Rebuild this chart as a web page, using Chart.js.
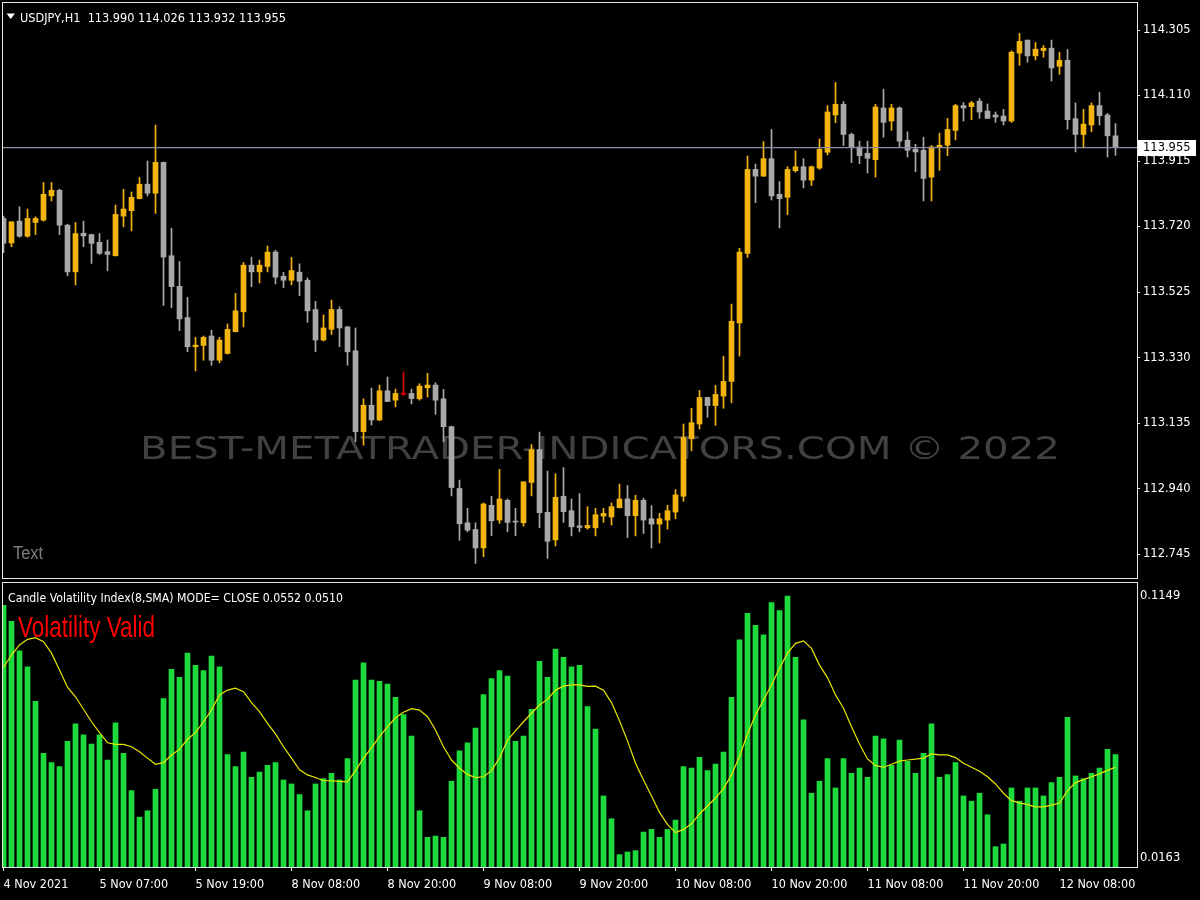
<!DOCTYPE html>
<html><head><meta charset="utf-8">
<script src="https://cdn.jsdelivr.net/npm/chart.js@4.4.1/dist/chart.umd.min.js"></script>
<style>
html,body{margin:0;padding:0;background:#000;width:1200px;height:900px;overflow:hidden}
#top{position:absolute;left:0;top:0;width:1200px;height:580px}
#bot{position:absolute;left:0;top:580px;width:1200px;height:320px}
</style></head><body>
<div id="top"><canvas id="c1"></canvas></div>
<div id="bot"><canvas id="c2"></canvas></div>
<script>
// ---------- DATA ----------
const xTickIndex  = [0, 12, 24, 36, 48, 60, 72, 84, 96, 108, 120, 132];
const xTickLabels = ['4 Nov 2021','5 Nov 07:00','5 Nov 19:00','8 Nov 08:00','8 Nov 20:00','9 Nov 08:00','9 Nov 20:00','10 Nov 08:00','10 Nov 20:00','11 Nov 08:00','11 Nov 20:00','12 Nov 08:00'];
const priceTicks = [112.745, 112.940, 113.135, 113.330, 113.525, 113.720, 113.915, 114.110, 114.305];
const volTicks = [0.0163, 0.1149];
const bidPrice = 113.955;
const chartTitle = 'USDJPY,H1  113.990 114.026 113.932 113.955';
const indTitle = 'Candle Volatility Index(8,SMA) MODE= CLOSE 0.0552 0.0510';
const signalText = 'Volatility Valid';

const open = [113.744,113.671,113.736,113.691,113.732,113.739,113.811,113.828,113.724,113.585,
113.700,113.696,113.673,113.645,113.633,113.751,113.767,113.803,113.846,113.819,
113.911,113.633,113.542,113.449,113.362,113.366,113.394,113.322,113.342,113.407,
113.466,113.605,113.585,113.601,113.644,113.572,113.560,113.584,113.560,113.473,
113.382,113.414,113.473,113.421,113.350,113.109,113.188,113.144,113.231,113.203,
113.221,113.223,113.207,113.240,113.248,113.207,113.124,112.940,112.838,112.818,
112.763,112.890,112.846,112.905,112.841,112.838,112.958,113.056,112.869,112.787,
112.917,112.874,112.829,112.823,112.823,112.858,112.855,112.883,112.909,112.859,
112.905,112.850,112.834,112.846,112.870,112.917,113.088,113.132,113.211,113.187,
113.215,113.259,113.433,113.640,113.890,113.870,113.922,113.816,113.807,113.886,
113.898,113.858,113.894,113.941,114.052,114.084,113.994,113.957,113.938,113.919,
114.073,114.034,114.073,113.977,113.950,113.947,113.867,113.956,113.962,114.006,
114.080,114.077,114.093,114.064,114.052,114.049,114.034,114.236,114.275,114.228,
114.244,114.251,114.197,114.215,114.041,113.994,114.022,114.080,114.052,113.990];
const high = [113.751,113.734,113.779,113.772,113.749,113.851,113.851,113.831,113.727,113.732,
113.736,113.697,113.699,113.680,113.784,113.831,113.823,113.866,113.915,114.022,
113.912,113.715,113.616,113.509,113.390,113.394,113.411,113.390,113.430,113.521,
113.613,113.629,113.620,113.662,113.649,113.584,113.628,113.609,113.567,113.497,
113.457,113.501,113.481,113.423,113.418,113.207,113.239,113.248,113.272,113.236,
113.287,113.236,113.252,113.283,113.255,113.235,113.126,112.965,112.881,112.838,
112.897,112.917,112.997,112.909,112.881,112.960,113.071,113.108,112.992,112.984,
113.002,112.909,112.925,112.886,112.881,112.881,112.897,112.953,112.949,112.920,
112.911,112.889,112.866,112.890,112.937,113.132,113.179,113.232,113.212,113.247,
113.334,113.489,113.655,113.930,113.906,113.973,114.009,113.854,113.898,113.945,
113.922,113.900,113.981,114.080,114.149,114.092,113.998,113.974,113.974,114.084,
114.129,114.084,114.076,114.002,113.965,113.986,113.961,113.998,114.042,114.084,
114.089,114.093,114.101,114.085,114.061,114.069,114.243,114.295,114.275,114.268,
114.259,114.275,114.239,114.247,114.088,114.069,114.088,114.120,114.057,114.026];
const low = [113.642,113.660,113.688,113.688,113.696,113.736,113.796,113.696,113.573,113.546,
113.660,113.610,113.637,113.588,113.632,113.719,113.707,113.802,113.811,113.759,
113.485,113.478,113.410,113.347,113.290,113.322,113.307,113.314,113.340,113.406,
113.421,113.541,113.552,113.585,113.549,113.538,113.546,113.514,113.435,113.347,
113.379,113.399,113.362,113.307,113.079,113.069,113.129,113.142,113.199,113.183,
113.216,113.192,113.203,113.212,113.161,113.079,112.918,112.786,112.811,112.717,
112.737,112.800,112.836,112.811,112.800,112.828,112.918,112.823,112.732,112.769,
112.839,112.799,112.811,112.819,112.799,112.839,112.831,112.882,112.794,112.799,
112.806,112.763,112.778,112.819,112.850,112.902,113.052,113.117,113.152,113.128,
113.179,113.195,113.334,113.628,113.791,113.869,113.799,113.716,113.755,113.882,
113.835,113.842,113.890,113.933,114.029,113.961,113.910,113.907,113.879,113.867,
113.986,114.006,113.957,113.927,113.883,113.796,113.796,113.887,113.931,113.978,
114.034,114.038,114.042,114.041,114.030,114.022,114.030,114.200,114.209,114.216,
114.224,114.153,114.173,114.010,113.942,113.954,114.002,114.022,113.927,113.932];
const close = [113.670,113.734,113.691,113.744,113.744,113.816,113.828,113.724,113.585,113.699,
113.692,113.670,113.640,113.637,113.756,113.772,113.807,113.846,113.819,113.911,
113.629,113.541,113.445,113.362,113.367,113.390,113.322,113.382,113.414,113.469,
113.605,113.585,113.605,113.644,113.569,113.560,113.589,113.557,113.469,113.382,
113.418,113.473,113.418,113.347,113.109,113.188,113.144,113.231,113.199,113.223,
113.221,113.208,113.245,113.248,113.203,113.124,112.943,112.835,112.816,112.763,
112.894,112.844,112.909,112.839,112.840,112.960,113.056,112.868,112.783,112.914,
112.871,112.826,112.824,112.830,112.862,112.866,112.886,112.909,112.859,112.905,
112.846,112.834,112.850,112.874,112.921,113.092,113.136,113.211,113.187,113.220,
113.259,113.438,113.644,113.890,113.870,113.922,113.811,113.803,113.890,113.898,
113.858,113.898,113.950,114.061,114.084,113.994,113.957,113.931,113.923,114.076,
114.030,114.073,113.974,113.947,113.942,113.863,113.957,113.962,114.009,114.080,
114.073,114.088,114.061,114.042,114.046,114.034,114.239,114.271,114.228,114.248,
114.251,114.192,114.215,114.038,113.994,114.025,114.080,114.050,113.990,113.955];

const volatility = [0.1114,0.1054,0.0943,0.0883,0.0753,0.0557,0.0522,0.0507,0.0602,0.0668,
0.0627,0.0592,0.0627,0.0532,0.0672,0.0557,0.0417,0.0317,0.0341,0.0422,
0.0763,0.0873,0.0843,0.0934,0.0888,0.0868,0.0923,0.0883,0.0552,0.0507,
0.0562,0.0467,0.0487,0.0512,0.0522,0.0457,0.0442,0.0402,0.0341,0.0442,
0.0462,0.0482,0.0457,0.0537,0.0833,0.0898,0.0833,0.0828,0.0818,0.0768,
0.0703,0.0622,0.0341,0.0241,0.0246,0.0241,0.0452,0.0567,0.0597,0.0652,
0.0778,0.0838,0.0868,0.0848,0.0602,0.0622,0.0723,0.0903,0.0843,0.0949,
0.0918,0.0883,0.0888,0.0733,0.0648,0.0397,0.0311,0.0176,0.0186,0.0191,
0.0261,0.0271,0.0241,0.0271,0.0306,0.0507,0.0502,0.0542,0.0492,0.0517,
0.0562,0.0768,0.0984,0.1084,0.1039,0.1003,0.1124,0.1094,0.1149,0.0918,
0.0683,0.0407,0.0452,0.0537,0.0427,0.0537,0.0482,0.0502,0.0467,0.0622,
0.0612,0.0512,0.0607,0.0527,0.0482,0.0557,0.0668,0.0467,0.0477,0.0522,
0.0397,0.0377,0.0407,0.0326,0.0206,0.0216,0.0427,0.0377,0.0427,0.0427,
0.0397,0.0447,0.0467,0.0693,0.0472,0.0462,0.0482,0.0502,0.0572,0.0552];
const volSma = [0.0881,0.0927,0.0965,0.0986,0.0992,0.0977,0.0934,0.0871,0.0806,0.0770,
0.0723,0.0676,0.0635,0.0597,0.0591,0.0591,0.0582,0.0563,0.0539,0.0516,
0.0522,0.0551,0.0572,0.0610,0.0635,0.0676,0.0720,0.0777,0.0795,0.0802,
0.0789,0.0748,0.0714,0.0670,0.0630,0.0582,0.0539,0.0495,0.0476,0.0466,
0.0454,0.0454,0.0452,0.0450,0.0492,0.0539,0.0578,0.0620,0.0657,0.0691,
0.0712,0.0725,0.0720,0.0695,0.0645,0.0582,0.0532,0.0501,0.0478,0.0466,
0.0469,0.0492,0.0539,0.0607,0.0642,0.0676,0.0708,0.0739,0.0760,0.0795,
0.0810,0.0815,0.0815,0.0809,0.0810,0.0795,0.0748,0.0680,0.0604,0.0520,
0.0457,0.0397,0.0335,0.0290,0.0259,0.0271,0.0292,0.0329,0.0359,0.0389,
0.0424,0.0476,0.0545,0.0630,0.0701,0.0758,0.0814,0.0877,0.0934,0.0971,
0.0980,0.0952,0.0889,0.0842,0.0777,0.0727,0.0657,0.0592,0.0536,0.0511,
0.0505,0.0516,0.0528,0.0532,0.0535,0.0539,0.0555,0.0551,0.0551,0.0541,
0.0520,0.0505,0.0490,0.0469,0.0442,0.0407,0.0379,0.0371,0.0364,0.0356,
0.0356,0.0362,0.0370,0.0417,0.0447,0.0458,0.0469,0.0480,0.0493,0.0505];

// ---------- STYLE ----------
const BULL = '#f2b50f', BEAR = '#a9a9ab', DOJI = '#e00000', GREEN = '#1cd93c', SMA_COLOR = '#e8e800';
const FRAME = '#e8e8e8', TXT = '#ffffff';
const X_MIN = -0.1875, X_MAX = 141.6875;
const P_MIN = 112.6736, P_MAX = 114.3884;
const V_MIN = 0.01295, V_MAX = 0.12017;
const AXIS_W = 63;

const idx = open.map((_, i) => i);
const candleColor = idx.map(i => close[i] > open[i] ? BULL : (close[i] < open[i] ? BEAR : DOJI));

function fitText(ctx, text, x, y, font, width, color) {
  ctx.save();
  ctx.font = font; ctx.fillStyle = color; ctx.textAlign = 'left'; ctx.textBaseline = 'alphabetic';
  const w = ctx.measureText(text).width;
  ctx.translate(x, y); ctx.scale(width / w, 1);
  ctx.fillText(text, 0, 0);
  ctx.restore();
}
const framePlugin = {
  id: 'frame',
  afterDraw(chart) {
    const a = chart.chartArea, ctx = chart.ctx;
    ctx.save(); ctx.strokeStyle = FRAME; ctx.lineWidth = 1;
    ctx.strokeRect(a.left + 0.5, a.top + 0.5, a.right - a.left, a.bottom - a.top);
    ctx.restore();
  }
};
const topDeco = {
  id: 'topDeco',
  beforeDatasetsDraw(chart) {
    const ctx = chart.ctx;
    fitText(ctx, 'BEST-METATRADER-INDICATORS.COM \u00A9 2022', 140, 459, '32px "DejaVu Sans"', 920, '#414141');
  },
  afterDatasetsDraw(chart) {
    const ctx = chart.ctx, a = chart.chartArea, y = chart.scales.y.getPixelForValue(bidPrice);
    ctx.save(); ctx.strokeStyle = '#8e8ca0'; ctx.lineWidth = 1.3;
    ctx.beginPath(); ctx.moveTo(a.left, y); ctx.lineTo(a.right, y); ctx.stroke(); ctx.restore();
  },
  afterDraw(chart) {
    const ctx = chart.ctx, a = chart.chartArea, y = chart.scales.y.getPixelForValue(bidPrice);
    ctx.save(); ctx.fillStyle = TXT; ctx.beginPath();
    ctx.moveTo(6.5, 13.5); ctx.lineTo(15, 13.5); ctx.lineTo(10.75, 19); ctx.closePath(); ctx.fill(); ctx.restore();
    fitText(ctx, chartTitle, 20, 22, '13px "DejaVu Sans Condensed", "DejaVu Sans"', 266, TXT);
    fitText(ctx, 'Text', 13, 559, '18px "Liberation Sans"', 30, '#7c7c7c');
    ctx.save(); ctx.fillStyle = '#ffffff';
    ctx.fillRect(a.right + 1, Math.round(y) - 8, 58, 16);
    ctx.fillStyle = '#000'; ctx.font = '11.5px "DejaVu Sans"'; ctx.textBaseline = 'middle'; ctx.textAlign = 'left';
    ctx.fillText(bidPrice.toFixed(3), a.right + 6, Math.round(y) + 0.5);
    ctx.restore();
  }
};
const botDeco = {
  id: 'botDeco',
  afterDraw(chart) {
    const ctx = chart.ctx;
    fitText(ctx, indTitle, 8, 22, '13px "DejaVu Sans Condensed", "DejaVu Sans"', 335, TXT);
    fitText(ctx, signalText, 18, 57, '29px "Liberation Sans"', 137, '#ff0000');
  }
};

Chart.defaults.font.family = '"DejaVu Sans"';

new Chart(document.getElementById('c1'), {
  type: 'bar',
  data: {
    datasets: [
      { label: 'wick', data: idx.map(i => ({x: i, y: [low[i], high[i]]})), backgroundColor: candleColor,
        barThickness: 1, grouped: false, clip: 0, order: 2 },
      { label: 'body', data: idx.map(i => ({x: i, y: [open[i], close[i]]})), backgroundColor: candleColor,
        barThickness: 5, grouped: false, minBarLength: 1, clip: 0, order: 1 }
    ]
  },
  options: {
    animation: false, responsive: true, maintainAspectRatio: false, devicePixelRatio: 1,
    layout: { padding: { left: 2, top: 2, right: 0, bottom: 2 } },
    plugins: { legend: { display: false }, tooltip: { enabled: false } },
    scales: {
      x: { type: 'linear', min: X_MIN, max: X_MAX, offset: false, display: false },
      y: {
        position: 'right', min: P_MIN, max: P_MAX,
        afterBuildTicks: s => { s.ticks = priceTicks.map(v => ({ value: v })); },
        afterFit: s => { s.width = AXIS_W; s.paddingTop = 0; s.paddingBottom = 0; },
        ticks: { color: TXT, font: { size: 11.5, family: '"DejaVu Sans"' }, padding: 3, callback: v => v.toFixed(3) },
        grid: { drawOnChartArea: false, drawTicks: true, tickLength: 3, color: FRAME },
        border: { display: false }
      }
    }
  },
  plugins: [topDeco, framePlugin]
});

new Chart(document.getElementById('c2'), {
  type: 'bar',
  data: {
    datasets: [
      { type: 'line', label: 'sma', data: idx.map(i => ({x: i, y: volSma[i]})), borderColor: SMA_COLOR,
        borderWidth: 1.2, pointRadius: 0, tension: 0, clip: 0, order: 0 },
      { type: 'bar', label: 'cvi', data: idx.map(i => ({x: i, y: volatility[i]})), backgroundColor: GREEN,
        barThickness: 5, grouped: false, clip: 0, order: 1 }
    ]
  },
  options: {
    animation: false, responsive: true, maintainAspectRatio: false, devicePixelRatio: 1,
    layout: { padding: { left: 2, top: 2, right: 0, bottom: 0 } },
    plugins: { legend: { display: false }, tooltip: { enabled: false } },
    scales: {
      x: {
        type: 'linear', min: X_MIN, max: X_MAX, offset: false, position: 'bottom',
        afterBuildTicks: s => { s.ticks = xTickIndex.map(v => ({ value: v })); },
        afterFit: s => { s.height = 33; s.paddingLeft = 0; s.paddingRight = 0; },
        ticks: { color: TXT, autoSkip: false, maxRotation: 0, align: 'start', padding: 6,
          font: { size: 12.5, family: '"DejaVu Sans Condensed", "DejaVu Sans"' },
          callback: v => { const k = xTickIndex.indexOf(v); return k >= 0 ? xTickLabels[k] : ''; } },
        grid: { drawOnChartArea: false, drawTicks: true, tickLength: 4, color: FRAME, offset: false },
        border: { display: false }
      },
      y: {
        position: 'right', min: V_MIN, max: V_MAX,
        afterBuildTicks: s => { s.ticks = volTicks.map(v => ({ value: v })); },
        afterFit: s => { s.width = AXIS_W; s.paddingTop = 0; s.paddingBottom = 0; },
        ticks: { color: TXT, font: { size: 11.5, family: '"DejaVu Sans"' }, padding: 3, callback: v => v.toFixed(4) },
        grid: { drawOnChartArea: false, drawTicks: false },
        border: { display: false }
      }
    }
  },
  plugins: [botDeco, framePlugin]
});
</script>
</body></html>
